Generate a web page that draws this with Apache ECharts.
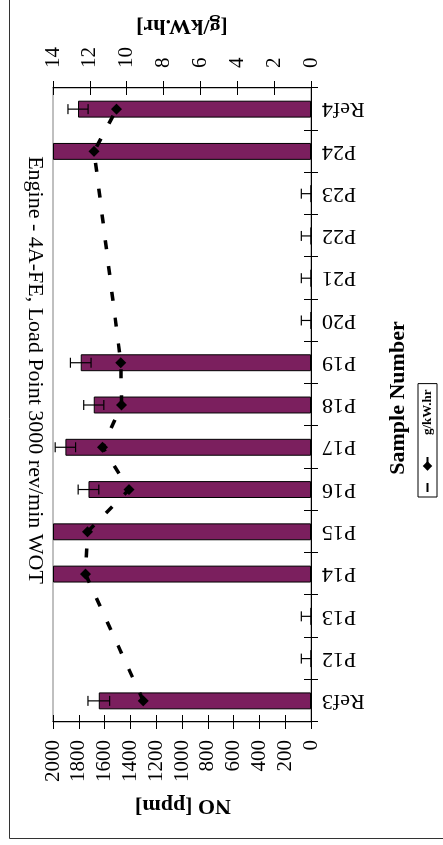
<!DOCTYPE html>
<html>
<head>
<meta charset="utf-8">
<script src="https://cdn.jsdelivr.net/npm/echarts@6/dist/echarts.min.js"></script>
<style>
  html, body { margin: 0; padding: 0; background: #fff; }
  body { width: 443px; height: 845px; overflow: hidden; position: relative; }
  /* the chart is laid out landscape and turned a quarter turn counter-clockwise */
  #chart {
    position: absolute; left: 0; top: 0;
    width: 845px; height: 443px;
    transform-origin: 0 0;
    transform: translateY(845px) rotate(-90deg);
  }
</style>
</head>
<body>
<div id="chart"></div>
<script>
// Sample categories along the horizontal axis
const samples = ['Ref3', 'P12', 'P13', 'P14', 'P15', 'P16', 'P17', 'P18', 'P19', 'P20', 'P21', 'P22', 'P23', 'P24', 'Ref4'];
// NO concentration [ppm] (bars) and its error half-width
const noPpm = [1645, 0, 0, 2000, 2000, 1725, 1904, 1684, 1785, 0, 0, 0, 0, 2000, 1806];
const noErr = [84, 75, 75, 0, 0, 80, 79, 78, 80, 75, 75, 75, 75, 0, 78];
// specific NO emission [g/kW.hr] (dashed line, right axis)
const gkw = [9.10, null, null, 12.24, 12.13, 9.87, 11.31, 10.28, 10.32, null, null, null, null, 11.77, 10.55];
// value-axis tick settings
const noTicks = { min: 0, max: 2000, interval: 200 };
const gkwTicks = { min: 0, max: 14, interval: 2 };

const SERIF = 'Liberation Serif';
const BAR = '#7b1f5e';

const chart = echarts.init(document.getElementById('chart'), null, { renderer: 'canvas' });

const baseVal = (t, pos, inside, labels, margin) => ({
  type: 'value', position: pos, min: t.min, max: t.max, interval: t.interval,
  axisLine: { show: !inside, lineStyle: { color: '#000', width: 1 } },
  axisTick: { show: true, inside: inside, length: 7, lineStyle: { color: '#000' } },
  axisLabel: { show: labels, fontFamily: SERIF, fontSize: 21, color: '#000', margin: margin, formatter: v => String(v) },
  splitLine: { show: false }
});

chart.setOption({
  animation: false,
  grid: { left: 123, right: 88, top: 53, bottom: 132, show: true, borderColor: '#808080', borderWidth: 1 },
  legend: {
    data: ['g/kW.hr'],
    left: 348, top: 418,
    orient: 'horizontal',
    borderColor: '#000', borderWidth: 1, padding: [3, 6, 3, 4],
    itemWidth: 52, itemHeight: 12, itemGap: 6,
    textStyle: { fontFamily: SERIF, fontWeight: 'bold', fontSize: 13, color: '#000' }
  },
  xAxis: [
    {
      type: 'category', data: samples, position: 'bottom',
      axisLine: { lineStyle: { color: '#000', width: 1 } },
      axisTick: { show: true, length: 7, interval: 0, lineStyle: { color: '#000' } },
      axisLabel: { rotate: 90, interval: 0, fontFamily: SERIF, fontSize: 22, color: '#000', margin: 11 }
    },
    {
      type: 'category', data: samples, position: 'bottom',
      axisLine: { show: false },
      axisTick: { show: true, inside: true, length: 7, interval: 0, lineStyle: { color: '#000' } },
      axisLabel: { show: false }
    }
  ],
  yAxis: [
    baseVal(noTicks, 'left', false, true, 18),
    baseVal(gkwTicks, 'right', false, true, 20),
    baseVal(noTicks, 'left', true, false, 0),
    baseVal(gkwTicks, 'right', true, false, 0)
  ],
  series: [
    {
      name: 'NO', type: 'bar', xAxisIndex: 0, yAxisIndex: 0,
      data: noPpm, barWidth: '40%', clip: true,
      itemStyle: { color: BAR, borderColor: '#000', borderWidth: 1 }
    },
    {
      name: 'NO error', type: 'custom', xAxisIndex: 0, yAxisIndex: 0, clip: true, z: 3,
      data: samples.map((s, i) => [i, noPpm[i], noErr[i]]).filter(d => d[2] > 0),
      renderItem: (params, api) => {
        const i = api.value(0), v = api.value(1), e = api.value(2);
        const lo = api.coord([i, v - e]);
        const hi = api.coord([i, v + e]);
        const h = 5;
        const st = { stroke: '#000', lineWidth: 1.2 };
        return {
          type: 'group', children: [
            { type: 'line', shape: { x1: lo[0], y1: lo[1], x2: hi[0], y2: hi[1] }, style: st },
            { type: 'line', shape: { x1: hi[0] - h, y1: hi[1], x2: hi[0] + h, y2: hi[1] }, style: st },
            { type: 'line', shape: { x1: lo[0] - h, y1: lo[1], x2: lo[0] + h, y2: lo[1] }, style: st }
          ]
        };
      }
    },
    {
      name: 'g/kW.hr', type: 'line', xAxisIndex: 0, yAxisIndex: 1, z: 4,
      data: gkw, connectNulls: true,
      symbol: 'diamond', symbolSize: 11,
      itemStyle: { color: '#000' },
      lineStyle: { color: '#000', width: 3.5, type: [9, 17] }
    }
  ],
  graphic: [
    {
      type: 'rect', silent: true, z: -1,
      shape: { x: 6.5, y: 9.5, width: 900, height: 500 },
      style: { fill: 'none', stroke: '#333', lineWidth: 1 }
    },
    {
      type: 'text', x: 475, y: 35, rotation: Math.PI,
      style: { text: 'Engine - 4A-FE, Load Point 3000 rev/min WOT', fontFamily: SERIF, fontSize: 22, fill: '#000', align: 'center', verticalAlign: 'middle' }
    },
    {
      type: 'text', x: 39, y: 183, rotation: Math.PI / 2,
      style: { text: 'NO [ppm]', fontFamily: SERIF, fontWeight: 'bold', fontSize: 22, fill: '#000', align: 'center', verticalAlign: 'middle' }
    },
    {
      type: 'text', x: 819, y: 182, rotation: Math.PI / 2,
      style: { text: '[g/kW.hr]', fontFamily: SERIF, fontWeight: 'bold', fontSize: 22, fill: '#000', align: 'center', verticalAlign: 'middle' }
    },
    {
      type: 'text', x: 447, y: 398,
      style: { text: 'Sample Number', fontFamily: SERIF, fontWeight: 'bold', fontSize: 22, fill: '#000', align: 'center', verticalAlign: 'middle' }
    }
  ]
});
</script>
</body>
</html>
